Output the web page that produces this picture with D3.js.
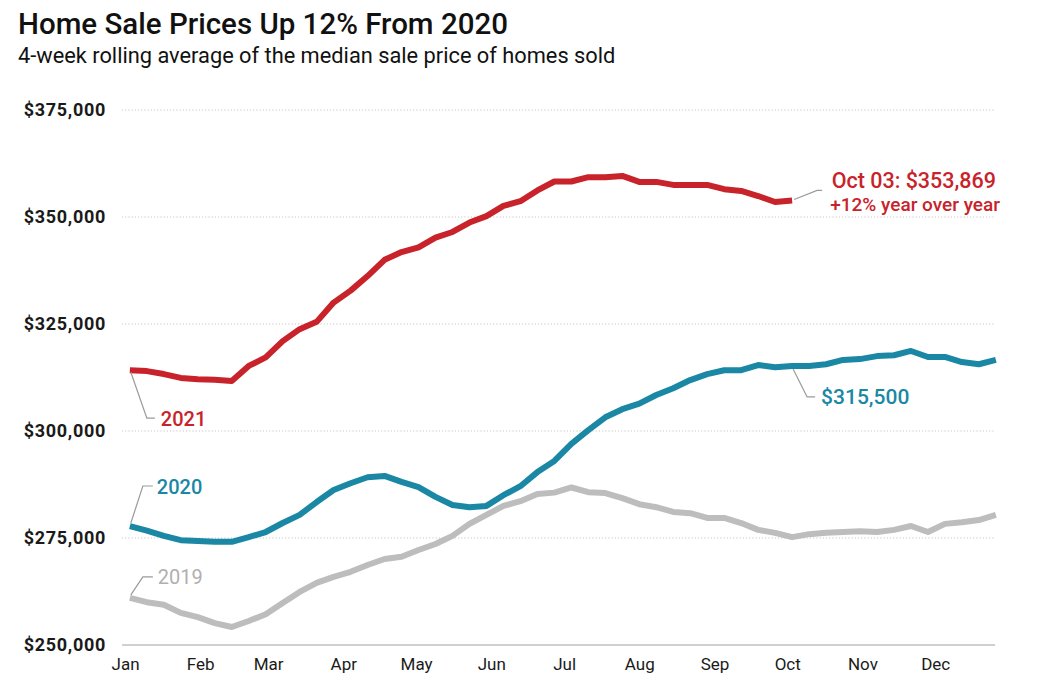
<!DOCTYPE html>
<html>
<head>
<meta charset="utf-8">
<script src="https://cdn.jsdelivr.net/npm/d3@7"></script>
<style>
  html, body { margin: 0; padding: 0; background: #fff; }
  svg { display: block; }
</style>
</head>
<body>
<svg id="chart" width="1042" height="692"></svg>
<script>
// ---- data (weekly 4-week rolling median sale price, USD) ----
const monthLabels = ["Jan","Feb","Mar","Apr","May","Jun","Jul","Aug","Sep","Oct","Nov","Dec"];
const yTicks = [250000, 275000, 300000, 325000, 350000, 375000];

const series2019 = [
  261000, 260000, 259400, 257500, 256500, 255100, 254200, 255600, 257200, 259800,
  262400, 264500, 265900, 267100, 268700, 270100, 270600, 272200, 273600, 275500,
  278300, 280400, 282500, 283600, 285300, 285600, 286800, 285700, 285500, 284300,
  282900, 282200, 281100, 280800, 279700, 279700, 278500, 276900, 276200, 275200,
  275900, 276200, 276400, 276600, 276400, 276900, 277800, 276400, 278300, 278700,
  279200, 280400
];
const series2020 = [
  277800, 276700, 275500, 274500, 274300, 274100, 274100, 275200, 276400, 278500,
  280400, 283400, 286200, 287800, 289200, 289500, 288100, 286900, 284600, 282700,
  282200, 282500, 285000, 287100, 290400, 293000, 297000, 300200, 303200, 305100,
  306400, 308400, 310000, 311900, 313300, 314200, 314200, 315400, 314900, 315200,
  315200, 315600, 316600, 316800, 317500, 317700, 318700, 317300, 317300, 316100,
  315600, 316600
];
const series2021 = [
  314200, 314000, 313300, 312400, 312100, 312000, 311700, 315200, 317200, 321000,
  323800, 325500, 330000, 332800, 336200, 340000, 341800, 342900, 345200, 346500,
  348700, 350200, 352600, 353700, 356200, 358300, 358300, 359300, 359300, 359600,
  358200, 358200, 357500, 357500, 357500, 356500, 356100, 354900, 353500, 353869
];
const firstWeek = new Date(2021, 0, 3); // week-ending date of first point (aligned year)

// ---- layout ----
const svg = d3.select("#chart");
const plotLeft = 122, plotRight = 995;
const FONT = "Roboto, 'Noto Sans', sans-serif";

const x = d3.scaleTime()
  .domain([new Date(2021, 0, 1), new Date(2021, 11, 31)])
  .range([125, 1008]);
const y = d3.scaleLinear()
  .domain([250000, 375000])
  .range([645, 110]);

const weekDate = i => d3.timeDay.offset(firstWeek, 7 * i);

const colors = { y2019: "#bdbdbd", y2020: "#1a87a4", y2021: "#c8232b", text: "#1a1a1a" };

// Title
svg.append("text")
  .attr("x", 18).attr("y", 34)
  .attr("font-family", FONT)
  .attr("font-size", 29.5).attr("font-weight", 500)
  .attr("fill", "#111")
  .text("Home Sale Prices Up 12% From 2020");
svg.append("text")
  .attr("x", 18).attr("y", 63)
  .attr("font-family", FONT)
  .attr("font-size", 21.8).attr("font-weight", 400)
  .attr("fill", "#111")
  .text("4-week rolling average of the median sale price of homes sold");

// Grid lines
svg.append("g").selectAll("line")
  .data(yTicks.filter(d => d !== 250000))
  .join("line")
  .attr("x1", plotLeft).attr("x2", plotRight)
  .attr("y1", d => y(d)).attr("y2", d => y(d))
  .attr("stroke", "#c8c8c8").attr("stroke-width", 1.2)
  .attr("stroke-dasharray", "1.2,2");
// baseline
svg.append("line")
  .attr("x1", plotLeft).attr("x2", plotRight)
  .attr("y1", y(250000)).attr("y2", y(250000))
  .attr("stroke", "#d0d0d0").attr("stroke-width", 2);

// Y axis labels
const yAxis = d3.axisLeft(y).tickValues(yTicks)
  .tickFormat(d => "$" + d3.format(",")(d)).tickSize(0).tickPadding(0);
const yg = svg.append("g").attr("transform", "translate(106,0)").call(yAxis);
yg.select(".domain").remove();
yg.selectAll("text")
  .attr("font-family", FONT)
  .attr("font-size", 18).attr("font-weight", 700)
  .attr("letter-spacing", 0.7)
  .attr("fill", colors.text);

// X axis labels
const xAxis = d3.axisBottom(x)
  .tickValues(d3.range(12).map(m => new Date(2021, m, 1)))
  .tickFormat((d, i) => monthLabels[i]).tickSize(0).tickPadding(0);
const xg = svg.append("g").attr("transform", "translate(0,658)").call(xAxis);
xg.select(".domain").remove();
xg.selectAll("text")
  .attr("font-family", FONT)
  .attr("font-size", 17).attr("font-weight", 400)
  .attr("fill", colors.text)
  .attr("dy", "0.72em");

// Lines
const line = d3.line()
  .x((d, i) => x(weekDate(i)))
  .y(d => y(d))
  .curve(d3.curveLinear);

[[series2019, colors.y2019], [series2020, colors.y2020], [series2021, colors.y2021]]
  .forEach(([s, c]) => {
    svg.append("path")
      .datum(s)
      .attr("d", line)
      .attr("fill", "none")
      .attr("stroke", c)
      .attr("stroke-width", 6)
      .attr("stroke-linejoin", "round")
      .attr("stroke-linecap", "butt");
  });

// Annotations
const leader = "#9a9a9a";
function leaderPath(pts) {
  svg.append("path")
    .attr("d", d3.line()(pts))
    .attr("fill", "none").attr("stroke", leader).attr("stroke-width", 1.2);
}
const x0 = x(weekDate(0));
// 2021 label
leaderPath([[x0 + 1, y(series2021[0]) + 2], [x0 + 17, y(series2021[0]) + 48], [x0 + 25, y(series2021[0]) + 48]]);
svg.append("text").attr("x", x0 + 31).attr("y", y(series2021[0]) + 56)
  .attr("font-family", FONT).attr("font-size", 20).attr("font-weight", 500)
  .attr("fill", colors.y2021).text("2021");
// 2020 label
leaderPath([[x0 + 1, y(series2020[0]) - 3], [x0 + 13, y(series2020[0]) - 40], [x0 + 23, y(series2020[0]) - 40]]);
svg.append("text").attr("x", x0 + 27).attr("y", y(series2020[0]) - 32)
  .attr("font-family", FONT).attr("font-size", 20).attr("font-weight", 500)
  .attr("fill", colors.y2020).text("2020");
// 2019 label
leaderPath([[x0 + 1, y(series2019[0]) - 3], [x0 + 13, y(series2019[0]) - 21], [x0 + 23, y(series2019[0]) - 21]]);
svg.append("text").attr("x", x0 + 28).attr("y", y(series2019[0]) - 14)
  .attr("font-family", FONT).attr("font-size", 20).attr("font-weight", 400)
  .attr("fill", "#b0b0b0").text("2019");

// Latest point annotation (2021)
const li = series2021.length - 1;
const lx = x(weekDate(li)), ly = y(series2021[li]);
leaderPath([[lx + 2, ly - 1], [lx + 25, ly - 10], [lx + 30, ly - 10]]);
svg.append("text").attr("x", 996).attr("y", 188).attr("text-anchor", "end")
  .attr("font-family", FONT).attr("font-size", 21.5).attr("font-weight", 500)
  .attr("fill", colors.y2021).text("Oct 03: $" + d3.format(",")(series2021[li]));
svg.append("text").attr("x", 1000).attr("y", 211).attr("text-anchor", "end")
  .attr("font-family", FONT).attr("font-size", 19).attr("font-weight", 500)
  .attr("fill", colors.y2021).text("+12% year over year");

// 2020 same-week annotation
const tx = x(weekDate(li)), ty = y(series2020[li]);
leaderPath([[tx + 1, ty + 3], [tx + 15, ty + 31], [tx + 23, ty + 31]]);
svg.append("text").attr("x", tx + 29).attr("y", ty + 38)
  .attr("font-family", FONT).attr("font-size", 21).attr("font-weight", 500)
  .attr("fill", colors.y2020).text("$315,500");
</script>
</body>
</html>
